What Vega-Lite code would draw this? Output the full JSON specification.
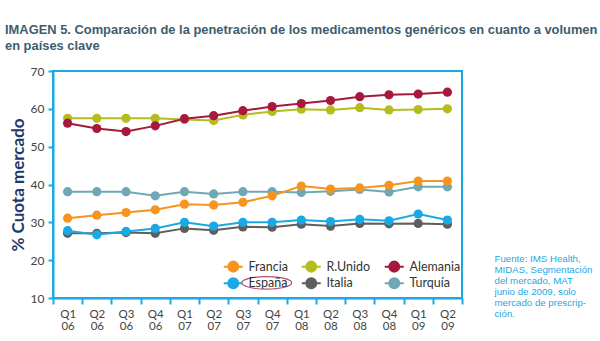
{
  "$schema": "https://vega.github.io/schema/vega-lite/v6.json",
  "autosize": {"type": "none"},
  "width": 409,
  "height": 227,
  "padding": {"left": 53, "top": 71, "right": 138, "bottom": 43},
  "background": "white",
  "title": {
    "text": ["IMAGEN 5. Comparación de la penetración de los medicamentos genéricos en cuanto a volumen", "en países clave"],
    "anchor": "start",
    "frame": "group",
    "dx": -48,
    "offset": 12,
    "font": "Liberation Sans",
    "fontSize": 12.9,
    "fontWeight": "bold",
    "color": "#3E5C6E",
    "lineHeight": 16
  },
  "data": {
    "values": [
      {"q": "Q1 06", "Francia": 31.1, "RUnido": 57.5, "Alemania": 56.2, "España": 27.8, "Italia": 27.1, "Turquía": 38.1},
      {"q": "Q2 06", "Francia": 31.9, "RUnido": 57.5, "Alemania": 54.8, "España": 26.7, "Italia": 27.1, "Turquía": 38.1},
      {"q": "Q3 06", "Francia": 32.6, "RUnido": 57.5, "Alemania": 54.0, "España": 27.6, "Italia": 27.3, "Turquía": 38.1},
      {"q": "Q4 06", "Francia": 33.3, "RUnido": 57.5, "Alemania": 55.5, "España": 28.4, "Italia": 27.1, "Turquía": 37.0},
      {"q": "Q1 07", "Francia": 34.8, "RUnido": 57.2, "Alemania": 57.4, "España": 30.0, "Italia": 28.4, "Turquía": 38.1},
      {"q": "Q2 07", "Francia": 34.6, "RUnido": 56.9, "Alemania": 58.2, "España": 29.0, "Italia": 27.9, "Turquía": 37.5},
      {"q": "Q3 07", "Francia": 35.3, "RUnido": 58.4, "Alemania": 59.5, "España": 30.0, "Italia": 28.8, "Turquía": 38.1},
      {"q": "Q4 07", "Francia": 37.0, "RUnido": 59.3, "Alemania": 60.6, "España": 30.0, "Italia": 28.7, "Turquía": 38.1},
      {"q": "Q1 08", "Francia": 39.6, "RUnido": 59.9, "Alemania": 61.4, "España": 30.6, "Italia": 29.5, "Turquía": 37.9},
      {"q": "Q2 08", "Francia": 38.8, "RUnido": 59.7, "Alemania": 62.2, "España": 30.2, "Italia": 29.0, "Turquía": 38.2},
      {"q": "Q3 08", "Francia": 39.1, "RUnido": 60.3, "Alemania": 63.2, "España": 30.8, "Italia": 29.7, "Turquía": 38.7},
      {"q": "Q4 08", "Francia": 39.8, "RUnido": 59.7, "Alemania": 63.7, "España": 30.4, "Italia": 29.6, "Turquía": 38.0},
      {"q": "Q1 09", "Francia": 40.9, "RUnido": 59.8, "Alemania": 63.9, "España": 32.2, "Italia": 29.7, "Turquía": 39.4},
      {"q": "Q2 09", "Francia": 40.9, "RUnido": 60.0, "Alemania": 64.4, "España": 30.6, "Italia": 29.5, "Turquía": 39.4}
    ]
  },
  "config": {
    "view": {"stroke": "#1BA9E6", "strokeWidth": 2},
    "axis": {"labelFont": "Lato", "titleFont": "Lato"}
  },
  "transform": [
    {"fold": ["Turquía", "Italia", "Francia", "España", "RUnido", "Alemania"], "as": ["pais", "v"]}
  ],
  "layer": [
    {
      "mark": {"type": "line", "strokeWidth": 2},
      "encoding": {
        "x": {
          "field": "q",
          "type": "ordinal",
          "sort": null,
          "scale": {"type": "band", "paddingInner": 0, "paddingOuter": 0},
          "axis": {
            "title": null,
            "labelAngle": 0,
            "labelExpr": "split(datum.label, ' ')",
            "labelFontSize": 11.5,
            "labelColor": "#444444",
            "labelLineHeight": 12,
            "labelPadding": 4,
            "tickBand": "extent",
            "tickColor": "#1BA9E6",
            "tickWidth": 2,
            "tickSize": 6,
            "domainColor": "#1BA9E6",
            "domainWidth": 2,
            "grid": false
          }
        },
        "y": {
          "field": "v",
          "type": "quantitative",
          "scale": {"domain": [10, 70], "nice": false, "zero": false},
          "axis": {
            "title": "% Cuota mercado",
            "titleFontSize": 17,
            "titleFontWeight": "bold",
            "titleColor": "#1F3A6A",
            "titlePadding": 3,
            "values": [10, 20, 30, 40, 50, 60, 70],
            "labelFontSize": 12,
            "labelColor": "#444444",
            "labelPadding": 4,
            "tickColor": "#1BA9E6",
            "tickWidth": 2,
            "tickSize": 5,
            "domainColor": "#1BA9E6",
            "domainWidth": 2,
            "grid": false
          }
        },
        "color": {
          "field": "pais",
          "type": "nominal",
          "scale": {
            "domain": ["Francia", "España", "RUnido", "Italia", "Alemania", "Turquía"],
            "range": ["#F7941D", "#1BA9E6", "#B5BD1E", "#5E5E5E", "#A6193C", "#6FA8B5"]
          },
          "legend": {
            "title": null,
            "orient": "none",
            "legendX": 174,
            "legendY": 189,
            "padding": 0,
            "columns": 3,
            "gridAlign": "each",
            "columnPadding": 9,
            "rowPadding": -2,
            "labelExpr": "datum.label == 'RUnido' ? 'R.Unido' : datum.label",
            "symbolType": "M-1.9,0H1.9M-1,0A1,1,0,1,1,1,0A1,1,0,1,1,-1,0Z",
            "symbolSize": 100,
            "symbolStrokeWidth": 2,
            "labelFont": "Lato",
            "labelFontSize": 12.5,
            "labelColor": "#333333",
            "labelOffset": 9
          }
        }
      }
    },
    {
      "mark": {"type": "point", "filled": true, "opacity": 1, "size": 85},
      "encoding": {
        "x": {"field": "q", "type": "ordinal", "sort": null},
        "y": {
          "field": "v",
          "type": "quantitative",
          "scale": {"domain": [10, 70], "nice": false, "zero": false},
          "axis": {
            "orient": "right",
            "labels": false,
            "ticks": false,
            "domain": false,
            "grid": false,
            "title": ["Fuente: IMS Health,", "MIDAS, Segmentación", "del mercado, MAT", "junio de 2009, solo", "mercado de prescrip-", "ción."],
            "titleAngle": 0,
            "titleAlign": "left",
            "titleBaseline": "top",
            "titleX": 32,
            "titleY": 182,
            "titleFont": "Liberation Sans",
            "titleFontSize": 9.7,
            "titleFontWeight": "normal",
            "titleColor": "#1BA9E6",
            "titleLineHeight": 11
          }
        },
        "color": {"field": "pais", "type": "nominal"}
      }
    },
    {
      "data": {"values": [{"nota": "España"}]},
      "mark": {
        "type": "point",
        "filled": false,
        "shape": "M-1,0A1,0.25,0,1,0,1,0A1,0.25,0,1,0,-1,0Z",
        "size": 2500,
        "stroke": "#B5506A",
        "strokeWidth": 1.2,
        "opacity": 1,
        "clip": false
      },
      "encoding": {
        "x": {"datum": "Q4 07", "type": "ordinal", "bandPosition": 0.315},
        "y": {
          "datum": 14.0,
          "type": "quantitative",
          "scale": {"domain": [10, 70], "nice": false, "zero": false},
          "axis": null
        }
      }
    }
  ],
  "resolve": {"scale": {"y": "independent"}, "axis": {"y": "independent"}}
}
